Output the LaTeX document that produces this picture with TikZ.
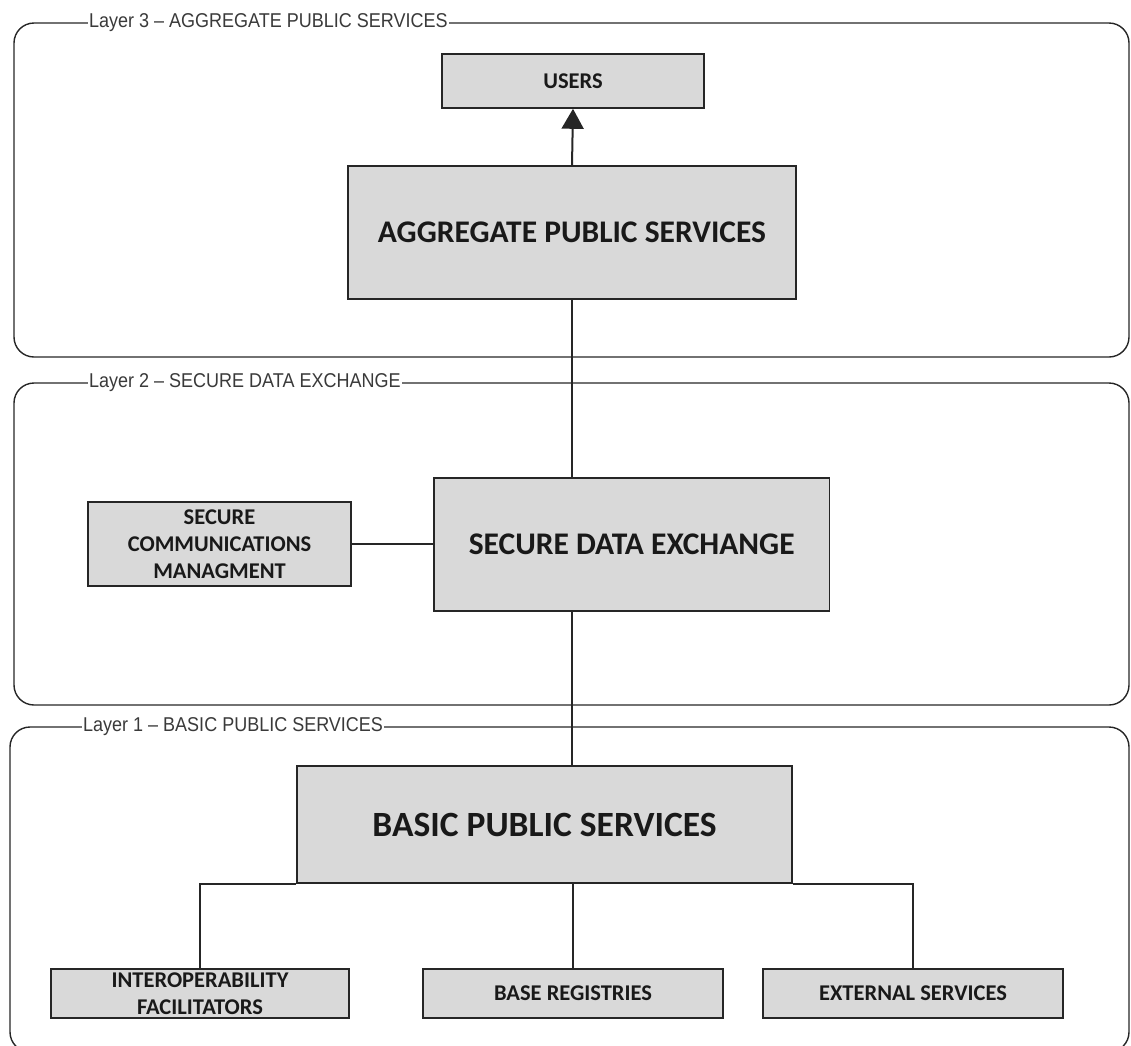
\documentclass[tikz,border=0pt]{standalone}
\usepackage{fontspec}
\usetikzlibrary{arrows.meta}
\newfontfamily\layerfont[FakeStretch=0.9]{Liberation Sans}
\newfontfamily\boxfont{Carlito}
\definecolor{boxfill}{HTML}{D9D9D9}
\definecolor{edgecol}{HTML}{262626}
\definecolor{labelgray}{HTML}{3A3A3A}

\begin{document}
\begin{tikzpicture}[x=1pt,y=-1pt,
  layer/.style={draw=edgecol, line width=1.4pt, rounded corners=20pt},
  layertitle/.style={anchor=west, fill=white, inner xsep=1pt, inner ysep=0pt,
    text=labelgray, font=\layerfont\fontsize{20}{20}\selectfont},
  block/.style={draw=edgecol, fill=boxfill, line width=1.6pt, inner sep=0pt,
    align=center, text=black!90},
  small/.style={font={\boxfont\bfseries\fontsize{22.5}{27}\selectfont}},
  wire/.style={draw=edgecol, line width=2pt},
]
\useasboundingbox (0,0) rectangle (1131,1045);

% layer frames
\draw[layer] (14,23) rectangle (1129,357);
\draw[layer] (14,383) rectangle (1129,705);
\draw[layer] (10,727) rectangle (1129,1052);

\node[layertitle] (t3) at (88,23) {Layer 3 – AGGREGATE PUBLIC SERVICES};
\node[layertitle] (t2) at (88,383) {Layer 2 – SECURE DATA EXCHANGE};
\node[layertitle] (t1) at (82,727) {Layer 1 – BASIC PUBLIC SERVICES};

% blocks
\node[block, small, minimum width=262pt, minimum height=54pt] (users) at (573,81) {USERS};
\node[block, minimum width=448pt, minimum height=133pt,
  font={\boxfont\bfseries\fontsize{31.5}{31.5}\selectfont}] (aps) at (572,232.5) {AGGREGATE PUBLIC SERVICES};
\node[block, small, minimum width=263pt, minimum height=84pt] (scm) at (219.5,544)
  {SECURE\\COMMUNICATIONS\\MANAGMENT};
\node[block, anchor=north west, inner xsep=35pt, minimum height=133pt,
  font={\boxfont\bfseries\fontsize{31.5}{31.5}\selectfont}] (sde) at (433,477) {SECURE DATA EXCHANGE};
\node[block, minimum width=495pt, minimum height=117pt,
  font={\boxfont\bfseries\fontsize{35.5}{35.5}\selectfont}] (bps) at (544.5,824.5) {BASIC PUBLIC SERVICES};
\node[block, small, minimum width=298pt, minimum height=49pt] (interop) at (200,993.5)
  {INTEROPERABILITY\\FACILITATORS};
\node[block, small, minimum width=300pt, minimum height=49pt] (base) at (573,993.5) {BASE REGISTRIES};
\node[block, small, minimum width=300pt, minimum height=49pt] (ext) at (913,993.5) {EXTERNAL SERVICES};

% connectors
\draw[wire, -{Triangle[width=22pt,length=20pt]}] (aps.north) -- (users.south);
\draw[wire] (aps.south) -- (aps.south |- sde.north);
\draw[wire] (sde.south -| aps.south) -- (bps.north -| aps.south);
\draw[wire] (scm.east) -- (scm.east -| sde.west);
\draw[wire] (bps.south west) -| (interop.north);
\draw[wire] (base.north |- bps.south) -- (base.north);
\draw[wire] (bps.south east) -| (ext.north);
\end{tikzpicture}
\end{document}
